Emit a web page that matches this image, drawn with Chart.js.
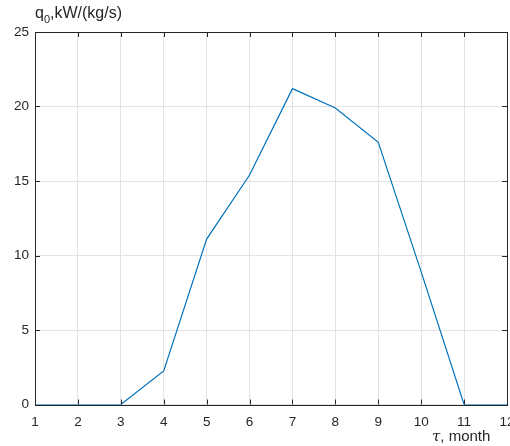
<!DOCTYPE html>
<html>
<head>
<meta charset="utf-8">
<script src="https://cdn.jsdelivr.net/npm/chart.js@4/dist/chart.umd.min.js"></script>
<style>
  html, body { margin: 0; padding: 0; background: #fff; overflow: hidden; }
  canvas { display: block; }
</style>
</head>
<body>
<canvas id="QChart" width="520" height="446"></canvas>
<script>
const months = [1, 2, 3, 4, 5, 6, 7, 8, 9, 10, 11, 12];
const q0 = [0, 0, 0, 2.25, 11.1, 15.4, 21.2, 19.9, 17.6, 8.9, 0, 0];
const yLabel = "q";
const yLabelSub = "0";
const yLabelRest = ",kW/(kg/s)";
const xLabelSym = "\u03C4";
const xLabelRest = ", month";

const axisColor = "#262626";
const fontFamily = "'Liberation Sans', Arial, sans-serif";

// box, inward ticks and axis titles like a matlab figure
const boxPlugin = {
  id: "box",
  afterDraw(chart) {
    const ctx = chart.ctx;
    const a = chart.chartArea;
    const xs = chart.scales.x;
    const ys = chart.scales.y;
    ctx.save();
    ctx.strokeStyle = axisColor;
    ctx.lineWidth = 1;
    ctx.beginPath();
    months.forEach(function (m) {
      const px = Math.round(xs.getPixelForValue(m)) + 0.5;
      ctx.moveTo(px, a.bottom);
      ctx.lineTo(px, a.bottom - 5);
      ctx.moveTo(px, a.top);
      ctx.lineTo(px, a.top + 5);
    });
    ys.ticks.forEach(function (t) {
      const py = Math.round(ys.getPixelForValue(t.value)) + 0.5;
      ctx.moveTo(a.left, py);
      ctx.lineTo(a.left + 5, py);
      ctx.moveTo(a.right, py);
      ctx.lineTo(a.right - 5, py);
    });
    ctx.stroke();
    ctx.strokeRect(Math.round(a.left) + 0.5, Math.round(a.top) + 0.5,
      Math.round(a.right - a.left), Math.round(a.bottom - a.top));

    ctx.fillStyle = axisColor;
    ctx.textBaseline = "alphabetic";
    ctx.textAlign = "left";
    ctx.font = "16px " + fontFamily;
    let x = 35;
    ctx.fillText(yLabel, x, 18);
    x += ctx.measureText(yLabel).width;
    ctx.font = "11px " + fontFamily;
    ctx.fillText(yLabelSub, x, 23);
    x += ctx.measureText(yLabelSub).width;
    ctx.font = "16px " + fontFamily;
    ctx.fillText(yLabelRest, x, 18);

    ctx.font = "italic 15px 'DejaVu Serif', serif";
    x = 432;
    ctx.fillText(xLabelSym, x, 441);
    x += ctx.measureText(xLabelSym).width;
    ctx.font = "15px " + fontFamily;
    ctx.fillText(xLabelRest, x, 441);
    ctx.restore();
  },
};

new Chart(document.getElementById("QChart"), {
  type: "line",
  data: {
    datasets: [
      {
        data: months.map(function (m, i) { return { x: m, y: q0[i] }; }),
        borderColor: "#0072BD",
        borderWidth: 1.2,
        pointRadius: 0,
        tension: 0,
        fill: false,
      },
    ],
  },
  options: {
    responsive: false,
    animation: false,
    layout: { padding: { top: 32, right: 13, left: 0, bottom: 0 } },
    plugins: { legend: { display: false }, tooltip: { enabled: false } },
    scales: {
      x: {
        type: "linear",
        min: 1,
        max: 12,
        grid: { color: "#e3e3e3", drawTicks: false },
        border: { display: false },
        ticks: {
          stepSize: 1,
          color: axisColor,
          padding: 10,
          maxRotation: 0,
          font: { family: fontFamily, size: 13.5 },
        },
        afterFit(scale) {
          scale.height = 41.5;
          scale.paddingLeft = 0;
          scale.paddingRight = 0;
        },
      },
      y: {
        min: 0,
        max: 25,
        grid: { color: "#e3e3e3", drawTicks: false },
        border: { display: false },
        ticks: {
          stepSize: 5,
          color: axisColor,
          padding: 6,
          font: { family: fontFamily, size: 13.5 },
        },
        afterFit(scale) {
          scale.width = 35;
          scale.paddingTop = 0;
          scale.paddingBottom = 0;
        },
      },
    },
  },
  plugins: [boxPlugin],
});
</script>
</body>
</html>
